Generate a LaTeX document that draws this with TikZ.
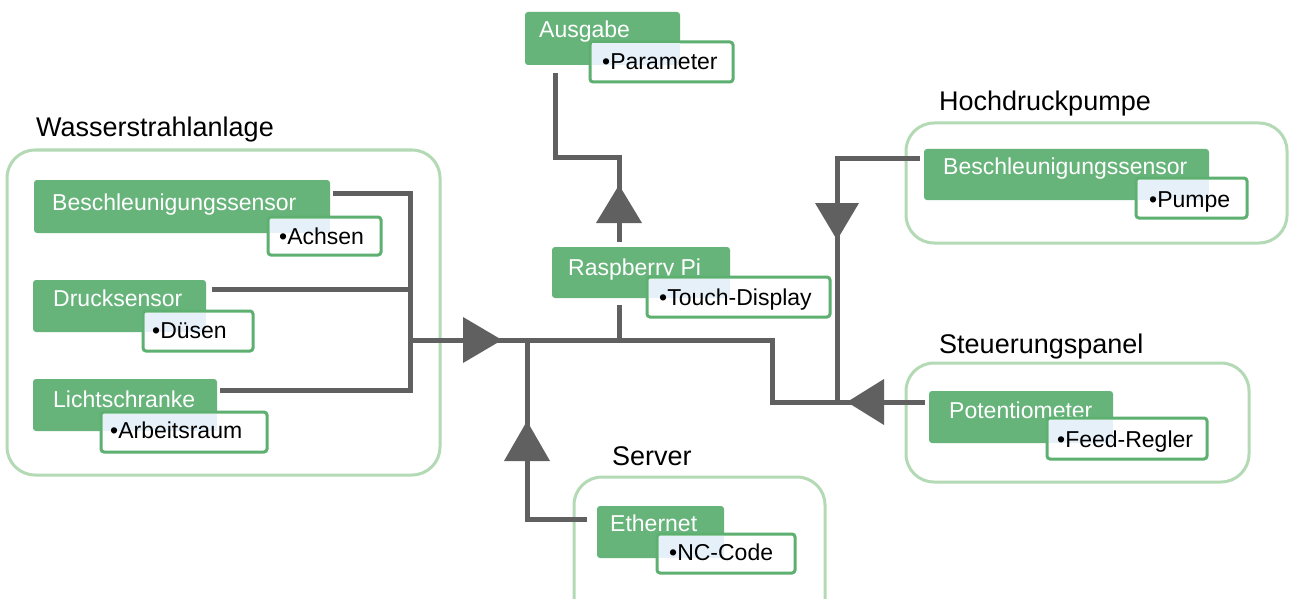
\documentclass[tikz,border=0pt]{standalone}
\usepackage{fontspec}
\setmainfont{Liberation Sans}
\usetikzlibrary{fit}
\definecolor{gfill}{HTML}{67B47B}
\definecolor{sborder}{HTML}{5DB070}
\definecolor{grpline}{HTML}{B3D9B5}
\definecolor{conncol}{HTML}{606060}
\definecolor{ovl}{HTML}{E6F0F8}
\tikzset{
  gbox/.style={fill=gfill, draw=none, rounded corners=3pt, inner sep=0pt, outer sep=0pt},
  subbox/.style={fill=white, draw=sborder, line width=3pt, rounded corners=3pt, inner sep=0pt, outer sep=0pt},
  grp/.style={draw=grpline, line width=3pt, rounded corners=28pt, inner sep=0pt, outer sep=0pt},
  gtext/.style={text=white, font=\fontsize{23}{26}\selectfont, inner sep=0pt, anchor=base west},
  stext/.style={text=black, font=\fontsize{23}{26}\selectfont, inner sep=0pt, anchor=base west},
  glabel/.style={text=black, font=\fontsize{27}{30}\selectfont, inner sep=0pt, anchor=base west},
  conn/.style={draw=conncol, line width=5pt, line join=miter},
  tri/.style={fill=conncol},
}
\newcommand\gcomp[5]{%
  \node[gbox, fit={(#2) (#3)}] (#1) {};
  \node[gtext] (#1t) at (#5) {#4};}
\newcommand\scomp[6]{%
  \node[subbox, fit={(#2) (#3)}] (#1) {};
  \fill[ovl] ([shift={(1.5,1.5)}]#1.north west) rectangle (#6);
  \node[stext] (#1t) at (#5) {#4};}
\begin{document}
\begin{tikzpicture}[x=1pt,y=-1pt]
\useasboundingbox (0,0) rectangle (1290,599);
\fill[white] (0,0) rectangle (1290,599);
\clip (0,0) rectangle (1290,599);

% groups
\node[grp, fit={(7,150) (440,475)}] (gW) {};
\node[grp, fit={(906,123) (1287,243)}] (gH) {};
\node[grp, fit={(906,363) (1249,482)}] (gS) {};
\node[grp, fit={(574,477) (825,640)}] (gSv) {};
\node[glabel] (lW) at (36,136) {Wasserstrahlanlage};
\node[glabel] (lH) at (939,111) {Hochdruckpumpe};
\node[glabel] (lS) at (939,353) {Steuerungspanel};
\node[glabel] (lSv) at (612,465) {Server};

% components
\gcomp{b1}{34,180}{330,233}{Beschleunigungssensor}{52,210}
\scomp{b1s}{268,217}{381,255}{•Achsen}{279,244}{330,233}
\gcomp{d1}{33,280}{206,332}{Drucksensor}{53,306}
\scomp{d1s}{143,311}{253,351}{•Düsen}{152,338}{206,332}
\gcomp{l1}{33,379}{217,431}{Lichtschranke}{53,407}
\scomp{l1s}{101,412}{267,452}{•Arbeitsraum}{110,438}{217,431}
\gcomp{aus}{525,12}{680,65}{Ausgabe}{539,38}
\scomp{auss}{590,42}{733,82}{•Parameter}{602,70}{680,65}
\gcomp{rpi}{552,247}{730,298}{Raspberry Pi}{568,275}
\scomp{rpis}{647,277}{830,317}{•Touch-Display}{659,305}{730,298}
\gcomp{bp}{924,149}{1209,200}{Beschleunigungssensor}{943,174}
\scomp{bps}{1136,178}{1247,218}{•Pumpe}{1149,207}{1209,200}
\gcomp{pot}{929,391}{1113,443}{Potentiometer}{949,418}
\scomp{pots}{1047,418}{1207,459}{•Feed-Regler}{1057,447}{1113,443}
\gcomp{eth}{597,506}{724,558}{Ethernet}{610,531}
\scomp{eths}{657,534}{795,573}{•NC-Code}{669,560}{724,558}

% junctions
\coordinate (jW) at (410,390);
\coordinate (jD) at (410,289);
\coordinate (jM) at (410,340);
\coordinate (jA) at (772,340);
\coordinate (jV) at (837,402);
\coordinate (jP) at (847,402);
\coordinate (jU) at (619,157);
\coordinate (jR) at (619,340);
\coordinate (jS) at (527,340);

% connectors
\draw[conn] ([shift={(3,13)}]b1.north east) -| (jW) -- ([shift={(3,11)}]l1.north east);
\draw[conn] ([shift={(6,9)}]d1.north east) -- (jD);
\draw[conn] (jM) -- (jA) |- (jP);
\draw[conn] ([shift={(-4,11)}]pot.north west) -- (jP);
\draw[conn] ([shift={(-4,9)}]bp.north west) -| (jV);
\draw[conn] ([shift={(30,8)}]aus.south west) |- (jU) -- ([shift={(67,-5)}]rpi.north west);
\draw[conn] ([shift={(67,7)}]rpi.south west) -- (jR);
\draw[conn] ([shift={(-10,13)}]eth.north west) -| (jS);

% arrowheads
\fill[tri] (502,340) -- (463,317) -- (463,363) -- cycle;
\fill[tri] (619,185) -- (596,223) -- (642,223) -- cycle;
\fill[tri] (837,240) -- (815,203) -- (859,203) -- cycle;
\fill[tri] (847,402) -- (884,379) -- (884,425) -- cycle;
\fill[tri] (527,421) -- (504,461) -- (550,461) -- cycle;
\end{tikzpicture}
\end{document}
